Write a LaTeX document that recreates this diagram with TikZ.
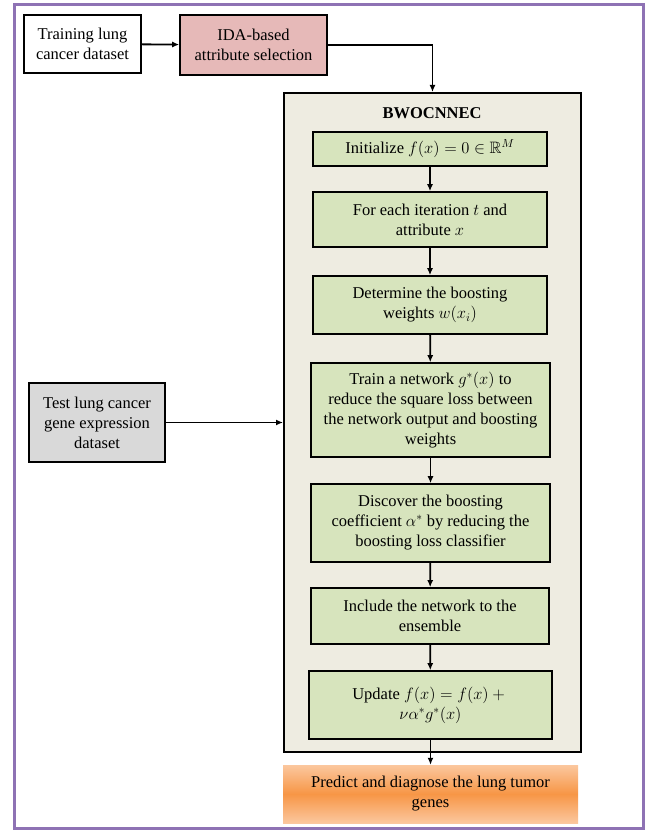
\documentclass[tikz,border=0pt]{standalone}
\usepackage{fix-cm}
\usepackage{amsmath, amssymb}
\usepackage{fontspec}
\setmainfont{Liberation Serif}
\usepackage{xcolor}
\usetikzlibrary{arrows.meta, positioning}

\definecolor{frameviolet}{HTML}{8E72B4}
\definecolor{idapink}{HTML}{E6B9B8}
\definecolor{testgray}{HTML}{D9D9D9}
\definecolor{groupbeige}{HTML}{EEECE1}
\definecolor{stepgreen}{HTML}{D7E4BD}
\definecolor{outlight}{HTML}{FBC79E}
\definecolor{outdark}{HTML}{F79646}

\begin{document}
\begin{tikzpicture}[
    x=1pt, y=-1pt,
    box/.style={draw=black, line width=1.6pt, align=center, inner sep=3pt,
                font=\fontsize{16.5}{20}\selectfont},
    stepbox/.style={box, fill=stepgreen},
    arr/.style={-{Latex[length=7pt, width=6pt]}, line width=1.8pt, black}
  ]
  \useasboundingbox (0, 0) rectangle (646, 832);
  \draw[frameviolet, line width=3pt] (14, 5) rectangle (643, 828);

  % inputs
  \node[box, minimum width=117pt, minimum height=58pt] (train) at (82.5, 44)
    {Training lung\\cancer dataset};
  \node[box, fill=idapink, minimum width=147pt, minimum height=60pt] (ida) at (253.5, 45)
    {IDA-based\\attribute selection};
  \node[box, fill=testgray, minimum width=136pt, minimum height=79pt] (test) at (97, 422.5)
    {Test lung cancer\\gene expression\\dataset};

  % BWOCNNEC block
  \node[draw=black, line width=2pt, fill=groupbeige, minimum width=297pt,
    minimum height=659pt] (bwo) at (432.5, 422.5) {};
  \node[font=\fontsize{16.5}{20}\selectfont\bfseries] (title) at (432, 113) {BWOCNNEC};

  \node[stepbox, minimum width=234pt, minimum height=34pt] (init) at (430, 149)
    {Initialize $f(x)=0\in\mathbb{R}^M$};
  \node[stepbox, minimum width=234pt, minimum height=55pt] (iter) at (430, 219.5)
    {For each iteration $t$ and\\attribute $x$};
  \node[stepbox, minimum width=234pt, minimum height=58pt] (weights) at (430, 305)
    {Determine the boosting\\weights $w(x_i)$};
  \node[stepbox, minimum width=239pt, minimum height=94pt] (net) at (430.5, 410)
    {Train a network $g^{*}(x)$ to\\reduce the square loss between\\the network output and boosting\\weights};
  \node[stepbox, minimum width=239pt, minimum height=78pt] (coeff) at (430.5, 523)
    {Discover the boosting\\coefficient $\alpha^{*}$ by reducing the\\boosting loss classifier};
  \node[stepbox, minimum width=238pt, minimum height=56pt] (incl) at (430, 616)
    {Include the network to the\\ensemble};
  \node[stepbox, minimum width=243pt, minimum height=68pt] (upd) at (430.5, 705)
    {Update $f(x)=f(x)+{}$\\$\nu\alpha^{*}g^{*}(x)$};

  % output
  \node[align=center, font=\fontsize{16.5}{20}\selectfont, top color=outlight,
    bottom color=outlight, middle color=outdark, minimum width=295pt,
    minimum height=58pt] (pred) at (430.5, 794)
    {Predict and diagnose the lung tumor\\genes};

  \draw[arr] (train) -- (ida);
  \draw[arr] (ida.east) -| (bwo.north);
  \draw[arr] (test) -- (bwo.west |- test);
  \draw[arr] (init) -- (iter);
  \draw[arr] (iter) -- (weights);
  \draw[arr] (weights) -- (net);
  \draw[arr] (net) -- (coeff);
  \draw[arr] (coeff) -- (incl);
  \draw[arr] (incl) -- (upd);
  \draw[arr] (upd) -- (pred);
\end{tikzpicture}
\end{document}
